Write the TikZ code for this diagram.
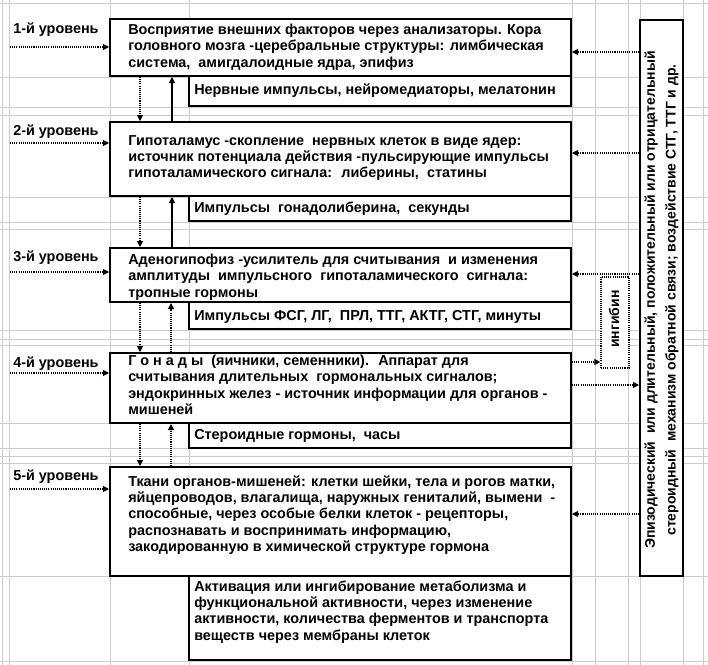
\documentclass[tikz,border=0pt]{standalone}
\usepackage{fontspec}
\setmainfont{Liberation Sans}
\usetikzlibrary{arrows.meta,fit}
\tikzset{
  grid line/.style={draw=gray!40, line width=0.75pt},
  box/.style={draw, line width=1.5pt, inner sep=0pt},
  dbox/.style={draw, dash pattern=on 0.8pt off 0.8pt, line width=0.9pt, inner sep=0pt},
  txt/.style={font=\bfseries\fontsize{10.8}{12.3}\selectfont, align=left, inner sep=0pt, anchor=west},
  lvl/.style={font=\bfseries\fontsize{10.8}{12.3}\selectfont, inner sep=0pt, anchor=west},
  dotarrow/.style={dash pattern=on 0.8pt off 0.8pt, line width=0.8pt, -{Triangle[length=4.5pt,width=4.5pt]}},
  solarrow/.style={line width=0.8pt, -{Triangle[length=4.5pt,width=4.5pt]}},
}
\begin{document}
\begin{tikzpicture}[x=0.75pt, y=-0.75pt]
\useasboundingbox (0,0) rectangle (708,665);
% spreadsheet grid
\foreach \gx in {2,9,110,189,572,595,628,640,683,703}
  \draw[grid line] (\gx,0) -- (\gx,665);
\foreach \gy in {3,77,107,115,197,222,229,330,339,345,423,448,456,463,576,661}
  \draw[grid line] (0,\gy) -- (708,\gy);

% boxes
\node[box, fill=white, fit={(110,19) (571,76)}] (b1) {};
\node[box, fill=white, fit={(189,76) (571,106)}] (s1) {};
\node[box, fill=white, fit={(110,122) (571,196)}] (b2) {};
\node[box, fill=white, fit={(189,196) (571,221)}] (s2) {};
\node[box, fill=white, fit={(110,248) (571,302)}] (b3) {};
\node[box, fill=white, fit={(189,302) (571,329)}] (s3) {};
\node[box, fill=white, fit={(110,353) (571,423)}] (b4) {};
\node[box, fill=white, fit={(189,423) (571,448)}] (s4) {};
\node[box, fill=white, fit={(110,467) (571,576)}] (b5) {};
\node[box, fill=white, fit={(189,576) (571,660)}] (s5) {};
\node[box, fill=white, fit={(640,20) (683,576)}] (fb) {};
\node[dbox, fill=white, fit={(601,277) (629,368)}] (ib) {};

% level labels
\node[lvl] (l1) at (13,30) {1-й уровень};
\node[lvl] (l2) at (13,132) {2-й уровень};
\node[lvl] (l3) at (13,258) {3-й уровень};
\node[lvl] (l4) at (13,364) {4-й уровень};
\node[lvl] (l5) at (13,477) {5-й уровень};

% texts
\node[txt] (t1) at (128,47) {Восприятие внешних факторов через анализаторы. Кора\\
головного мозга -церебральные структуры: лимбическая\\
система,~ амигдалоидные ядра, эпифиз};
\node[txt] (st1) at (194,91) {Нервные импульсы, нейромедиаторы, мелатонин};
\node[txt] (t2) at (128,158) {Гипоталамус -скопление~ нервных клеток в виде ядер:\\
источник потенциала действия -пульсирующие импульсы\\
гипоталамического сигнала:~ либерины,~ статины};
\node[txt] (st2) at (194,209) {Импульсы~ гонадолиберина,~ секунды};
\node[txt] (t3) at (128,277) {Аденогипофиз -усилитель для считывания~ и изменения\\
амплитуды~ импульсного~ гипоталамического~ сигнала:\\
тропные гормоны};
\node[txt] (st3) at (194,317) {Импульсы ФСГ, ЛГ,~ ПРЛ, ТТГ, АКТГ, СТГ, минуты};
\node[txt] (t4) at (128,385) {Г о н а д ы~ (яичники, семенники).~ Аппарат для\\
считывания длительных~ гормональных сигналов;\\
эндокринных желез - источник информации для органов -\\
мишеней};
\node[txt] (st4) at (194,436) {Стероидные гормоны,~ часы};
\node[txt] (t5) at (128,515) {Ткани органов-мишеней: клетки шейки, тела и рогов матки,\\
яйцепроводов, влагалища, наружных гениталий, вымени~ -\\
способные, через особые белки клеток - рецепторы,\\
распознавать и воспринимать информацию,\\
закодированную в химической структуре гормона};
\node[txt] (st5) at (194,612) {Активация или ингибирование метаболизма и\\
функциональной активности, через изменение\\
активности, количества ферментов и транспорта\\
веществ через мембраны клеток};
\node[font=\bfseries\fontsize{10.5}{15.5}\selectfont, align=center, rotate=90, inner sep=0pt] (tf) at (661.5,300)
  {Эпизодический~ или длительный, положительный или отрицательный\\
   стероидный~ механизм обратной связи; воздействие СТГ, ТТГ и др.};
\node[font=\bfseries\fontsize{10.5}{12.3}\selectfont, rotate=90, inner sep=0pt] (ti) at (614,319) {ингибин};

% input arrows from the left
\coordinate (a1) at (10,47);
\coordinate (a2) at (10,143);
\coordinate (a3) at (10,272);
\coordinate (a4) at (10,373);
\coordinate (a5) at (10,489);
\draw[dotarrow] (a1) -- (a1 -| b1.west);
\draw[dotarrow] (a2) -- (a2 -| b2.west);
\draw[dotarrow] (a3) -- (a3 -| b3.west);
\draw[dotarrow] (a4) -- (a4 -| b4.west);
\draw[dotarrow] (a5) -- (a5 -| b5.west);

% vertical links
\coordinate (xa) at (140,0);
\coordinate (xb) at (172,0);
\coordinate (xc) at (171,0);
\draw[dotarrow] (xa |- b1.south) -- (xa |- b2.north);
\draw[solarrow] (xb |- b2.north) -- (xb |- b1.south);
\draw[dotarrow] (xa |- b2.south) -- (xa |- b3.north);
\draw[solarrow] (xb |- b3.north) -- (xb |- b2.south);
\draw[dotarrow] (xa |- b3.south) -- (xa |- b4.north);
\draw[dotarrow] (xc |- b4.north) -- (xc |- b3.south);
\draw[dotarrow] (xa |- b4.south) -- (xa |- b5.north);
\draw[dotarrow] (xc |- b5.north) -- (xc |- b4.south);

% feedback arrows
\coordinate (y1) at (0,52);
\coordinate (y2) at (0,153);
\coordinate (y3) at (0,274);
\coordinate (y5) at (0,514);
\coordinate (yi) at (0,362);
\coordinate (yf) at (0,385);
\draw[dotarrow] (fb.west |- y1) -- (b1.east |- y1);
\draw[dotarrow] (fb.west |- y2) -- (b2.east |- y2);
\draw[dotarrow] (fb.west |- y3) -- (b3.east |- y3);
\draw[dotarrow] (fb.west |- y5) -- (b5.east |- y5);
\draw[dotarrow] (b4.east |- yi) -- (ib.west |- yi);
\draw[dotarrow] (b4.east |- yf) -- (fb.west |- yf);
\end{tikzpicture}
\end{document}
